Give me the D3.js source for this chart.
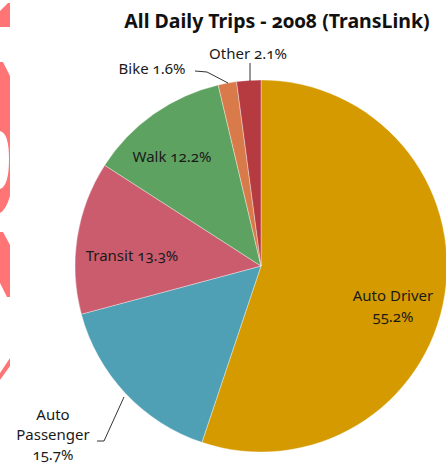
<!DOCTYPE html>
<html><head><meta charset="utf-8">
<script src="https://cdn.jsdelivr.net/npm/d3@7"></script>
<style>
html,body{margin:0;padding:0;background:#fff;}
svg{display:block;}
text{font-family:"Noto Sans",Lato,sans-serif;font-variant-numeric:oldstyle-nums;font-feature-settings:"onum" 1;}
</style></head>
<body><svg id="chart" width="446" height="465"></svg>
<script>
const categories = ["Auto Driver","Auto Passenger","Transit","Walk","Bike","Other"];
const values = [55.2, 15.7, 13.3, 12.2, 1.6, 2.1];
const colors = ["#D49A00","#4FA0B5","#CB5C6D","#5EA261","#D97A4B","#B63B40"];
const title = "All Daily Trips - 2008 (TransLink)";

const svg = d3.select("#chart");
const cx = 261, cy = 266, R = 186;

// decorative pink shapes on left edge (background artifact)
const pink = "#FF7575";
const deco = svg.append("g").attr("fill", pink);
deco.append("path").attr("d","M0,11 L8,3 L10,3 L10,27 L0,27 Z");
deco.append("path").attr("fill-rule","evenodd")
  .attr("d","M0,62 L3,62 L10,76 L10,196 Q6,210 0,213 Z M0,131 Q9,133 9,159 Q9,186 0,189 Z");
deco.append("path").attr("d","M0,232 L3,232 L10,245 L10,297 L7,297 L0,283 Z");
deco.append("path").attr("d","M0,373 L10,358 L10,366 L0,380 Z");

const data = categories.map((c,i)=>({cat:c, v:values[i], color:colors[i]}));
const pie = d3.pie().sort(null).value(d=>d.v).startAngle(0).endAngle(2*Math.PI);
const arc = d3.arc().innerRadius(0).outerRadius(R);
const arcs = pie(data);

const g = svg.append("g").attr("transform",`translate(${cx},${cy})`);
g.selectAll("path").data(arcs).join("path")
  .attr("d", arc).attr("fill", d=>d.data.color)
  .attr("stroke","rgba(255,255,255,0.45)").attr("stroke-width",0.8);

svg.append("text").attr("x",277).attr("y",28).attr("text-anchor","middle")
  .attr("font-size",19.5).attr("font-weight","bold").attr("fill","#111").text(title);

const fmt = v => v.toFixed(1) + "%";
const lab = svg.append("g").attr("font-size",15).attr("fill","#1a1a1a");
function label(x,y,lines,dy=21){
  const t = lab.append("text").attr("x",x).attr("y",y).attr("text-anchor","middle");
  lines.forEach((l,i)=>t.append("tspan").attr("x",x).attr("dy",i?dy:0).text(l));
}
label(393,301,[categories[0], fmt(values[0])]);
label(53,420,["Auto","Passenger", fmt(values[1])],20);
label(132,261,[categories[2]+" "+fmt(values[2])]);
label(172,162,[categories[3]+" "+fmt(values[3])]);
label(152,74,[categories[4]+" "+fmt(values[4])]);
label(248,59,[categories[5]+" "+fmt(values[5])]);

const leader = d3.line();
const lines = [
  [[97,441],[104,441],[124,397]],
  [[195,71],[207,72],[228,83]],
  [[250,63],[250,81]]
];
svg.append("g").selectAll("path").data(lines).join("path")
  .attr("d", leader).attr("fill","none").attr("stroke","#333").attr("stroke-width",1);
</script></body></html>
